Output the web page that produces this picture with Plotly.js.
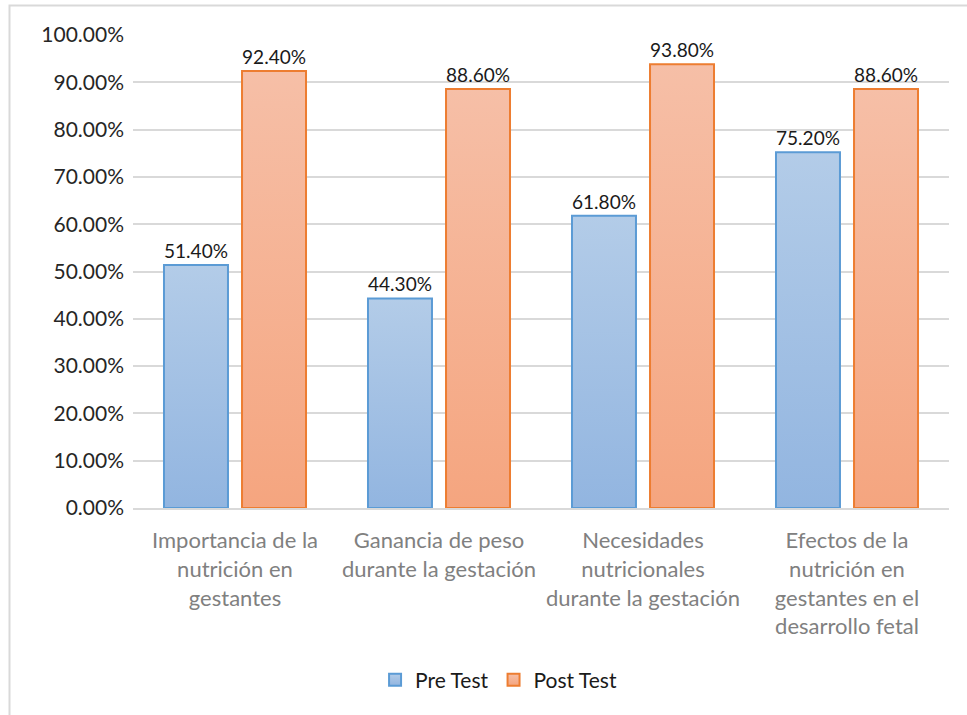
<!DOCTYPE html>
<html>
<head>
<meta charset="utf-8">
<script src="https://cdn.plot.ly/plotly-3.0.1.min.js"></script>
<style>
  html, body { margin: 0; padding: 0; background: #ffffff; }
  #chart { width: 967px; height: 715px; }
</style>
</head>
<body>
<div id="chart"></div>
<script>
// Dimensiones evaluadas (etiquetas del eje X)
const categories = [
  "Importancia de la<br>nutrición en<br>gestantes",
  "Ganancia de peso<br>durante la gestación",
  "Necesidades<br>nutricionales<br>durante la gestación",
  "Efectos de la<br>nutrición en<br>gestantes en el<br>desarrollo fetal"
];

// Porcentajes por momento de evaluación
const preTest  = [51.4, 44.3, 61.8, 75.2];
const postTest = [92.4, 88.6, 93.8, 88.6];

// Etiquetas del eje Y
const yTickVals = [0, 10, 20, 30, 40, 50, 60, 70, 80, 90, 100];
const yTickText = yTickVals.map(v => v.toFixed(2) + "%");

const FONT = "Lato, 'Open Sans', 'DejaVu Sans', sans-serif";

const traces = [
  {
    type: "bar",
    name: "Pre Test",
    x: categories,
    y: preTest,
    text: preTest.map(v => v.toFixed(2) + "%"),
    textposition: "outside",
    textfont: { family: FONT, size: 23, color: "#1a1a1a" },
    cliponaxis: false,
    marker: { color: "#a4c0e4", line: { color: "#5b9bd5", width: 2 } },
    hoverinfo: "none"
  },
  {
    type: "bar",
    name: "Post Test",
    x: categories,
    y: postTest,
    text: postTest.map(v => v.toFixed(2) + "%"),
    textposition: "outside",
    textfont: { family: FONT, size: 23, color: "#1a1a1a" },
    cliponaxis: false,
    marker: { color: "#f5b394", line: { color: "#ed7d31", width: 2 } },
    hoverinfo: "none"
  }
];

const layout = {
  width: 967,
  height: 715,
  margin: { l: 133, r: 18, t: 35, b: 207 },
  paper_bgcolor: "#ffffff",
  plot_bgcolor: "#ffffff",
  font: { family: FONT, size: 21, color: "#262626" },
  barmode: "group",
  bargap: 0.235,
  bargroupgap: 0.18,
  showlegend: true,
  legend: {
    orientation: "h",
    x: 0.448,
    xanchor: "center",
    y: -0.3636,
    yanchor: "middle",
    font: { family: FONT, size: 21, color: "#1a1a1a" },
    itemwidth: 30,
    traceorder: "normal"
  },
  xaxis: {
    type: "category",
    tickfont: { family: FONT, size: 22, color: "#808080" },
    showgrid: false,
    showline: true,
    linecolor: "#d9d9d9",
    linewidth: 2,
    ticks: "",
    ticklabelstandoff: 12,
    fixedrange: true
  },
  yaxis: {
    range: [0, 100],
    tickvals: yTickVals,
    ticktext: yTickText,
    tickfont: { family: FONT, size: 21, color: "#262626" },
    showgrid: true,
    gridcolor: "#d9d9d9",
    gridwidth: 2,
    zeroline: false,
    showline: false,
    ticks: "",
    ticklabelstandoff: 8,
    fixedrange: true
  },
  shapes: [
    {
      type: "rect",
      xref: "paper", yref: "paper",
      x0: (9.5 - 133) / 816, x1: (975 - 133) / 816,
      y0: (508 - 725) / 473, y1: (508 - 5.5) / 473,
      line: { color: "#d9d9d9", width: 2 },
      fillcolor: "rgba(0,0,0,0)",
      layer: "below"
    }
  ]
};

Plotly.newPlot("chart", traces, layout, { staticPlot: true, displayModeBar: false }).then(gd => {
  // Relleno degradado vertical en las barras y en los símbolos de la leyenda
  const svg = gd.querySelector("svg.main-svg");
  const ns = "http://www.w3.org/2000/svg";
  let defs = svg.querySelector("defs");
  if (!defs) { defs = document.createElementNS(ns, "defs"); svg.insertBefore(defs, svg.firstChild); }
  const grads = [
    { id: "gradPre",  top: "#b3cce8", bottom: "#92b5e0" },
    { id: "gradPost", top: "#f6bfa7", bottom: "#f5a57f" }
  ];
  grads.forEach(g => {
    const lg = document.createElementNS(ns, "linearGradient");
    lg.setAttribute("id", g.id);
    lg.setAttribute("x1", "0"); lg.setAttribute("y1", "0");
    lg.setAttribute("x2", "0"); lg.setAttribute("y2", "1");
    [[0, g.top], [1, g.bottom]].forEach(([o, c]) => {
      const s = document.createElementNS(ns, "stop");
      s.setAttribute("offset", String(o));
      s.setAttribute("stop-color", c);
      lg.appendChild(s);
    });
    defs.appendChild(lg);
  });
  const barTraces = gd.querySelectorAll(".barlayer .trace.bars");
  barTraces.forEach((t, i) => {
    t.querySelectorAll(".point path").forEach(p => { p.style.fill = "url(#" + grads[i].id + ")"; });
  });
  gd.querySelectorAll(".legend .traces").forEach((t, i) => {
    t.querySelectorAll(".legendpoints path").forEach(p => { p.style.fill = "url(#" + grads[i].id + ")"; });
  });
});
</script>
</body>
</html>
